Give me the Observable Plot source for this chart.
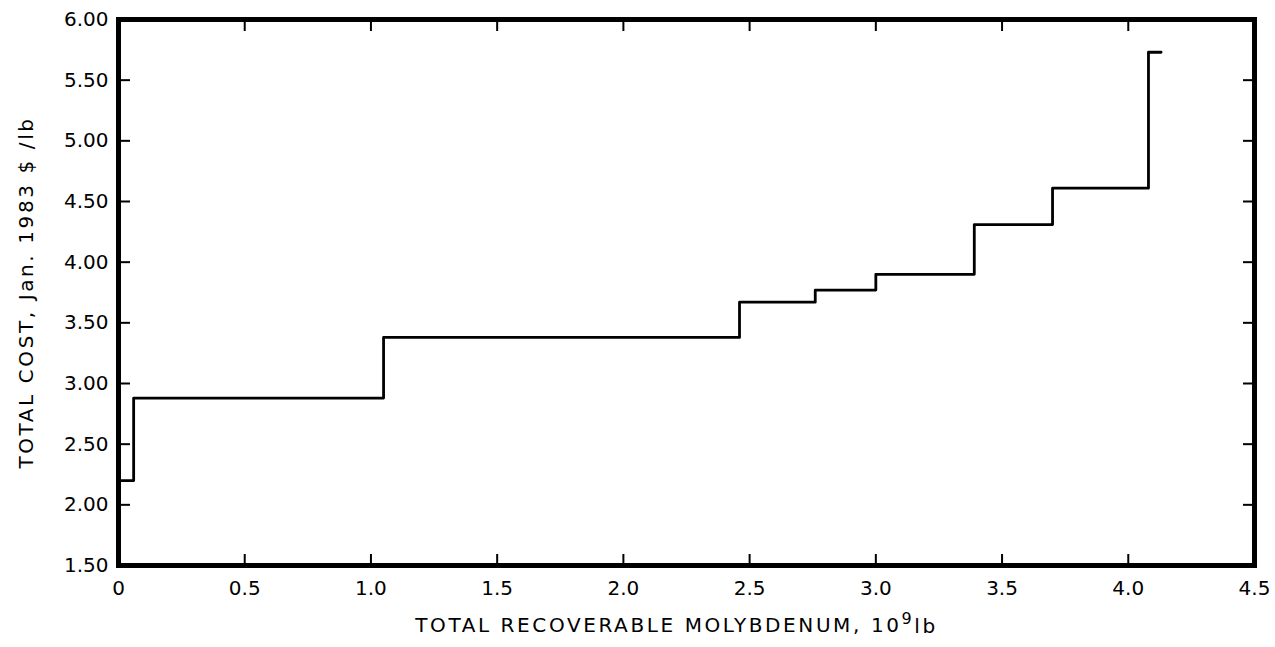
<!DOCTYPE html>
<html>
<head>
<meta charset="utf-8">
<script src="https://cdn.jsdelivr.net/npm/d3@7"></script>
<script src="https://cdn.jsdelivr.net/npm/@observablehq/plot@0.6"></script>
<style>
  html, body { margin: 0; padding: 0; background: #fff; }
  #chart svg { display: block; }
  #chart g[aria-label="text"] text { letter-spacing: 2.6px; }
</style>
</head>
<body>
<div id="chart"></div>
<script>
// Cumulative recoverable molybdenum (10^9 lb) where each cost step begins
const recoverable = [0, 0.06, 1.05, 2.46, 2.76, 3.00, 3.39, 3.70, 4.08, 4.13];
// Total cost (Jan. 1983 $/lb) of each step
const totalCost = [2.20, 2.88, 3.38, 3.67, 3.77, 3.90, 4.31, 4.61, 5.73, 5.73];

const xTicks = [0, 0.5, 1.0, 1.5, 2.0, 2.5, 3.0, 3.5, 4.0, 4.5];
const xTickLabels = ["0", "0.5", "1.0", "1.5", "2.0", "2.5", "3.0", "3.5", "4.0", "4.5"];
const yTicks = [1.5, 2.0, 2.5, 3.0, 3.5, 4.0, 4.5, 5.0, 5.5, 6.0];
const yTickLabels = ["1.50", "2.00", "2.50", "3.00", "3.50", "4.00", "4.50", "5.00", "5.50", "6.00"];

const xTitleMain = "TOTAL RECOVERABLE MOLYBDENUM, 10";
const xTitleSup = "9";
const xTitleUnit = "lb";
const yTitle = "TOTAL COST, Jan. 1983 $ /lb";

const steps = recoverable.map((x, i) => ({x, y: totalCost[i]}));

const font = "'DejaVu Sans', 'Liberation Sans', sans-serif";

const chart = Plot.plot({
  width: 1275,
  height: 647,
  marginLeft: 118,
  marginRight: 21,
  marginTop: 19,
  marginBottom: 82,
  style: {fontFamily: font, color: "#000", background: "#fff"},
  x: {domain: [0, 4.5]},
  y: {domain: [1.5, 6]},
  marks: [
    Plot.line(steps, {x: "x", y: "y", curve: "step-after", stroke: "#000", strokeWidth: 2.8}),
    Plot.axisY(yTicks, {anchor: "left", tickSize: -12, tickPadding: 22, strokeWidth: 2,
      tickFormat: d => yTickLabels[yTicks.indexOf(d)], fontSize: 20, label: null}),
    Plot.axisY(yTicks, {anchor: "right", tickSize: -12, strokeWidth: 2, tickFormat: () => "", label: null}),
    Plot.axisX(xTicks, {anchor: "bottom", tickSize: -11, tickPadding: 26, strokeWidth: 2,
      tickFormat: d => xTickLabels[xTicks.indexOf(d)], fontSize: 20, label: null}),
    Plot.axisX(xTicks, {anchor: "top", tickSize: -11, strokeWidth: 2, tickFormat: () => "", label: null}),
    Plot.frame({stroke: "#000", strokeWidth: 5}),
    Plot.text([yTitle], {text: d => d, frameAnchor: "left", dx: -92, rotate: -90,
      textAnchor: "middle", fontSize: 20, fill: "#000"}),
    Plot.text([xTitleMain + xTitleSup + xTitleUnit], {text: d => d, frameAnchor: "bottom", dx: -10, dy: 66,
      textAnchor: "middle", fontSize: 20, fill: "#000"})
  ]
});

document.getElementById("chart").appendChild(chart);

// Render the power of ten as a real superscript
d3.select(chart).selectAll('g[aria-label="text"] text').each(function() {
  const t = d3.select(this);
  if (t.text() === xTitleMain + xTitleSup + xTitleUnit) {
    t.text(null);
    t.append("tspan").text(xTitleMain);
    t.append("tspan").attr("dy", "-0.45em").attr("font-size", 16).text(xTitleSup);
    t.append("tspan").attr("dy", "0.45em").text(xTitleUnit);
  }
});
</script>
</body>
</html>
